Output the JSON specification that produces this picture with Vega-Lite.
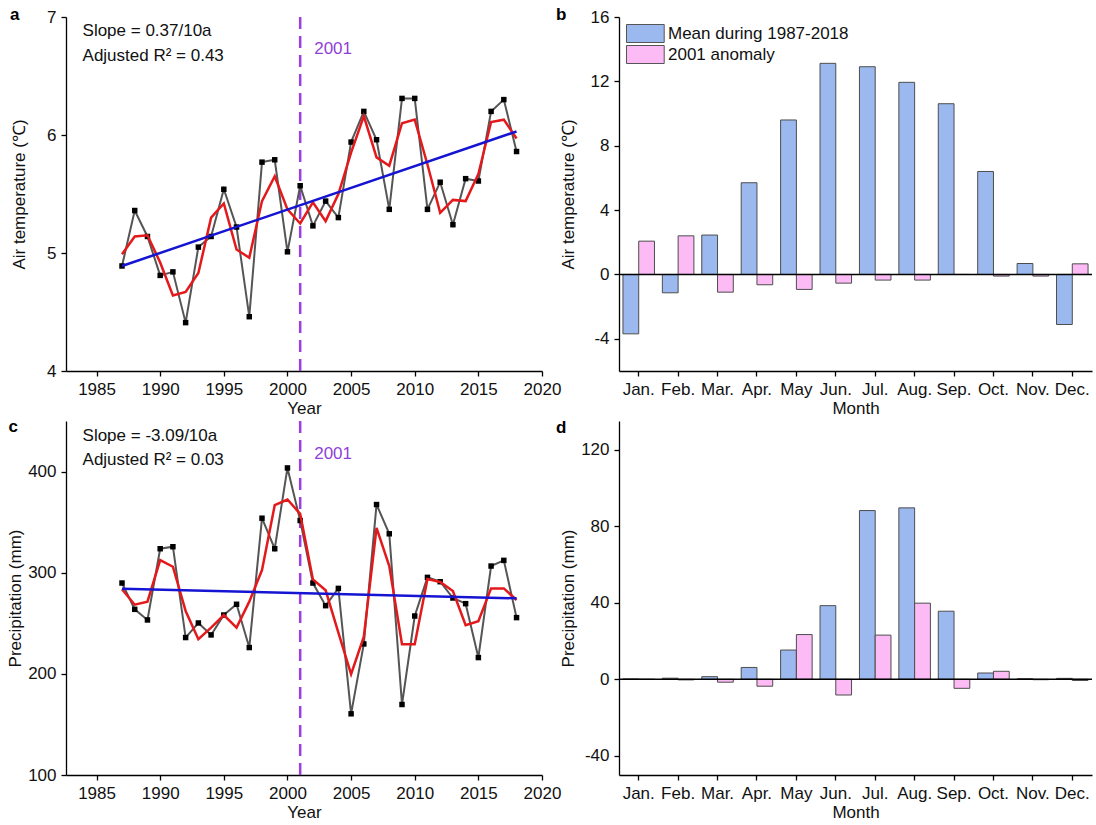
{
  "$schema": "https://vega.github.io/schema/vega-lite/v6.json",
  "padding": {"left": 6, "top": 6, "right": 0, "bottom": 0},
  "background": "white",
  "config": {
    "font": "Liberation Sans",
    "view": {"stroke": null},
    "axis": {"grid": false, "domainColor": "#000", "tickColor": "#000", "labelColor": "#111", "titleColor": "#111", "labelFontSize": 17, "titleFontSize": 17, "titleFontWeight": "normal", "labelFont": "Liberation Sans", "titleFont": "Liberation Sans", "domainWidth": 1.3, "tickWidth": 1.3, "tickSize": 5},
    "axisY": {"labelPadding": 5},
    "axisX": {"titlePadding": 3, "labelPadding": 5, "labelFlush": false},
    "title": {"anchor": "start", "frame": "group", "fontSize": 17, "fontWeight": "bold", "color": "#000", "offset": -16, "font": "Liberation Sans"}
  },
  "datasets": {
    "temp": [
      {"year": 1987, "obs": 4.89, "smooth": 4.99},
      {"year": 1988, "obs": 5.36, "smooth": 5.14},
      {"year": 1989, "obs": 5.14, "smooth": 5.15},
      {"year": 1990, "obs": 4.81, "smooth": 4.92},
      {"year": 1991, "obs": 4.84, "smooth": 4.64},
      {"year": 1992, "obs": 4.41, "smooth": 4.67},
      {"year": 1993, "obs": 5.05, "smooth": 4.83},
      {"year": 1994, "obs": 5.14, "smooth": 5.30},
      {"year": 1995, "obs": 5.54, "smooth": 5.42},
      {"year": 1996, "obs": 5.22, "smooth": 5.03},
      {"year": 1997, "obs": 4.46, "smooth": 4.96},
      {"year": 1998, "obs": 5.77, "smooth": 5.44},
      {"year": 1999, "obs": 5.79, "smooth": 5.65},
      {"year": 2000, "obs": 5.01, "smooth": 5.37},
      {"year": 2001, "obs": 5.57, "smooth": 5.25},
      {"year": 2002, "obs": 5.23, "smooth": 5.43},
      {"year": 2003, "obs": 5.44, "smooth": 5.27},
      {"year": 2004, "obs": 5.30, "smooth": 5.50},
      {"year": 2005, "obs": 5.94, "smooth": 5.85},
      {"year": 2006, "obs": 6.20, "smooth": 6.16},
      {"year": 2007, "obs": 5.96, "smooth": 5.81},
      {"year": 2008, "obs": 5.37, "smooth": 5.74},
      {"year": 2009, "obs": 6.31, "smooth": 6.10},
      {"year": 2010, "obs": 6.31, "smooth": 6.13},
      {"year": 2011, "obs": 5.37, "smooth": 5.75},
      {"year": 2012, "obs": 5.60, "smooth": 5.34},
      {"year": 2013, "obs": 5.24, "smooth": 5.45},
      {"year": 2014, "obs": 5.63, "smooth": 5.44},
      {"year": 2015, "obs": 5.61, "smooth": 5.67},
      {"year": 2016, "obs": 6.20, "smooth": 6.11},
      {"year": 2017, "obs": 6.30, "smooth": 6.13},
      {"year": 2018, "obs": 5.86, "smooth": 5.97}
    ],
    "tfit": [{"year": 1987, "fit": 4.89}, {"year": 2018, "fit": 6.03}],
    "prec": [
      {"year": 1987, "obs": 289.8, "smooth": 283.6},
      {"year": 1988, "obs": 263.8, "smooth": 268.4},
      {"year": 1989, "obs": 253.3, "smooth": 271.4},
      {"year": 1990, "obs": 323.7, "smooth": 312.5},
      {"year": 1991, "obs": 325.7, "smooth": 305.9},
      {"year": 1992, "obs": 235.9, "smooth": 262.2},
      {"year": 1993, "obs": 250.3, "smooth": 234.2},
      {"year": 1994, "obs": 238.5, "smooth": 245.7},
      {"year": 1995, "obs": 258.2, "smooth": 258.2},
      {"year": 1996, "obs": 268.8, "smooth": 245.7},
      {"year": 1997, "obs": 226.0, "smooth": 271.4},
      {"year": 1998, "obs": 353.9, "smooth": 302.6},
      {"year": 1999, "obs": 323.7, "smooth": 366.8},
      {"year": 2000, "obs": 403.6, "smooth": 372.4},
      {"year": 2001, "obs": 351.6, "smooth": 358.2},
      {"year": 2002, "obs": 289.8, "smooth": 293.4},
      {"year": 2003, "obs": 267.4, "smooth": 282.6},
      {"year": 2004, "obs": 284.5, "smooth": 240.8},
      {"year": 2005, "obs": 160.5, "smooth": 199.7},
      {"year": 2006, "obs": 229.6, "smooth": 236.8},
      {"year": 2007, "obs": 367.4, "smooth": 344.4},
      {"year": 2008, "obs": 338.5, "smooth": 306.6},
      {"year": 2009, "obs": 169.7, "smooth": 229.3},
      {"year": 2010, "obs": 257.2, "smooth": 229.3},
      {"year": 2011, "obs": 295.4, "smooth": 293.8},
      {"year": 2012, "obs": 291.1, "smooth": 290.8},
      {"year": 2013, "obs": 275.0, "smooth": 281.9},
      {"year": 2014, "obs": 269.4, "smooth": 248.0},
      {"year": 2015, "obs": 216.1, "smooth": 252.0},
      {"year": 2016, "obs": 306.6, "smooth": 284.5},
      {"year": 2017, "obs": 312.2, "smooth": 284.5},
      {"year": 2018, "obs": 255.6, "smooth": 273.0}
    ],
    "pfit": [{"year": 1987, "fit": 284.2}, {"year": 2018, "fit": 274.7}],
    "tmonth": [
      {"month": "Jan.", "series": "Mean during 1987-2018", "value": -3.69},
      {"month": "Feb.", "series": "Mean during 1987-2018", "value": -1.14},
      {"month": "Mar.", "series": "Mean during 1987-2018", "value": 2.45},
      {"month": "Apr.", "series": "Mean during 1987-2018", "value": 5.70},
      {"month": "May", "series": "Mean during 1987-2018", "value": 9.60},
      {"month": "Jun.", "series": "Mean during 1987-2018", "value": 13.12},
      {"month": "Jul.", "series": "Mean during 1987-2018", "value": 12.91},
      {"month": "Aug.", "series": "Mean during 1987-2018", "value": 11.94},
      {"month": "Sep.", "series": "Mean during 1987-2018", "value": 10.61},
      {"month": "Oct.", "series": "Mean during 1987-2018", "value": 6.40},
      {"month": "Nov.", "series": "Mean during 1987-2018", "value": 0.68},
      {"month": "Dec.", "series": "Mean during 1987-2018", "value": -3.11},
      {"month": "Jan.", "series": "2001 anomaly", "value": 2.07},
      {"month": "Feb.", "series": "2001 anomaly", "value": 2.40},
      {"month": "Mar.", "series": "2001 anomaly", "value": -1.10},
      {"month": "Apr.", "series": "2001 anomaly", "value": -0.64},
      {"month": "May", "series": "2001 anomaly", "value": -0.93},
      {"month": "Jun.", "series": "2001 anomaly", "value": -0.54},
      {"month": "Jul.", "series": "2001 anomaly", "value": -0.35},
      {"month": "Aug.", "series": "2001 anomaly", "value": -0.35},
      {"month": "Sep.", "series": "2001 anomaly", "value": 0.0},
      {"month": "Oct.", "series": "2001 anomaly", "value": -0.10},
      {"month": "Nov.", "series": "2001 anomaly", "value": -0.10},
      {"month": "Dec.", "series": "2001 anomaly", "value": 0.66}
    ],
    "pmonth": [
      {"month": "Jan.", "series": "Mean during 1987-2018", "value": 0.2},
      {"month": "Feb.", "series": "Mean during 1987-2018", "value": 0.6},
      {"month": "Mar.", "series": "Mean during 1987-2018", "value": 1.4},
      {"month": "Apr.", "series": "Mean during 1987-2018", "value": 6.2},
      {"month": "May", "series": "Mean during 1987-2018", "value": 15.3},
      {"month": "Jun.", "series": "Mean during 1987-2018", "value": 38.5},
      {"month": "Jul.", "series": "Mean during 1987-2018", "value": 88.2},
      {"month": "Aug.", "series": "Mean during 1987-2018", "value": 89.6},
      {"month": "Sep.", "series": "Mean during 1987-2018", "value": 35.6},
      {"month": "Oct.", "series": "Mean during 1987-2018", "value": 3.3},
      {"month": "Nov.", "series": "Mean during 1987-2018", "value": 0.3},
      {"month": "Dec.", "series": "Mean during 1987-2018", "value": 0.5},
      {"month": "Jan.", "series": "2001 anomaly", "value": 0.0},
      {"month": "Feb.", "series": "2001 anomaly", "value": -0.3},
      {"month": "Mar.", "series": "2001 anomaly", "value": -1.5},
      {"month": "Apr.", "series": "2001 anomaly", "value": -3.6},
      {"month": "May", "series": "2001 anomaly", "value": 23.4},
      {"month": "Jun.", "series": "2001 anomaly", "value": -8.2},
      {"month": "Jul.", "series": "2001 anomaly", "value": 23.1},
      {"month": "Aug.", "series": "2001 anomaly", "value": 39.8},
      {"month": "Sep.", "series": "2001 anomaly", "value": -4.7},
      {"month": "Oct.", "series": "2001 anomaly", "value": 4.2},
      {"month": "Nov.", "series": "2001 anomaly", "value": -0.2},
      {"month": "Dec.", "series": "2001 anomaly", "value": -0.6}
    ]
  },
  "bounds": "flush",
  "columns": 2,
  "spacing": {"row": 50, "column": 77},
  "resolve": {"scale": {"x": "independent", "y": "independent", "color": "independent"}, "legend": {"color": "independent"}},
  "concat": [
    {
      "width": 476, "height": 354,
      "title": {"text": "a", "dx": -56},
      "data": {"name": "temp"},
      "layer": [
        {"data": {"values": [{"year": 2001}]}, "mark": {"type": "rule", "color": "#9a3fe4", "strokeWidth": 2.5, "strokeDash": [12, 7]},
         "encoding": {"x": {"field": "year", "type": "quantitative", "scale": {"domain": [1982.6, 2020], "nice": false, "zero": false}, "axis": {"values": [1985, 1990, 1995, 2000, 2005, 2010, 2015, 2020], "format": "d", "title": "Year"}}}},
        {"mark": {"type": "line", "color": "#555555", "strokeWidth": 2},
         "encoding": {"x": {"field": "year", "type": "quantitative", "title": "Year"}, "y": {"field": "obs", "type": "quantitative", "scale": {"domain": [4, 7], "nice": false, "zero": false}, "axis": {"values": [4, 5, 6, 7], "labelExpr": "'' + datum.value", "title": "Air temperature (℃)", "minExtent": 32, "maxExtent": 32, "titlePadding": 6}}}},
        {"mark": {"type": "point", "shape": "square", "filled": true, "color": "#000", "size": 30, "opacity": 1},
         "encoding": {"x": {"field": "year", "type": "quantitative", "title": "Year"}, "y": {"field": "obs", "type": "quantitative", "title": "Air temperature (℃)"}}},
        {"mark": {"type": "line", "color": "#e3191c", "strokeWidth": 2.5},
         "encoding": {"x": {"field": "year", "type": "quantitative", "title": "Year"}, "y": {"field": "smooth", "type": "quantitative", "title": "Air temperature (℃)"}}},
        {"data": {"name": "tfit"}, "mark": {"type": "line", "color": "#1414d2", "strokeWidth": 2.5},
         "encoding": {"x": {"field": "year", "type": "quantitative", "title": "Year"}, "y": {"field": "fit", "type": "quantitative", "title": "Air temperature (℃)"}}},
        {"data": {"values": [{"t": "Slope = 0.37/10a"}]}, "mark": {"type": "text", "align": "left", "baseline": "middle", "fontSize": 17, "color": "#111"}, "encoding": {"x": {"datum": 1983.9, "type": "quantitative"}, "y": {"datum": 6.88, "type": "quantitative"}, "text": {"field": "t", "type": "nominal"}}},
        {"data": {"values": [{"t": "Adjusted R² = 0.43"}]}, "mark": {"type": "text", "align": "left", "baseline": "middle", "fontSize": 17, "color": "#111"}, "encoding": {"x": {"datum": 1983.9, "type": "quantitative"}, "y": {"datum": 6.67, "type": "quantitative"}, "text": {"field": "t", "type": "nominal"}}},
        {"data": {"values": [{"t": "2001"}]}, "mark": {"type": "text", "align": "left", "baseline": "middle", "fontSize": 17, "color": "#8f3fd9"}, "encoding": {"x": {"datum": 2002.1, "type": "quantitative"}, "y": {"datum": 6.73, "type": "quantitative"}, "text": {"field": "t", "type": "nominal"}}}
      ]
    },
    {
      "width": 473, "height": 354,
      "title": {"text": "b", "dx": -63},
      "data": {"name": "tmonth"},
      "layer": [
        {"mark": {"type": "bar", "stroke": "#4d4d4d", "strokeWidth": 1},
         "encoding": {
           "x": {"field": "month", "type": "nominal", "sort": ["Jan.", "Feb.", "Mar.", "Apr.", "May", "Jun.", "Jul.", "Aug.", "Sep.", "Oct.", "Nov.", "Dec."], "scale": {"paddingInner": 0.2, "paddingOuter": 0.1}, "axis": {"title": "Month", "labelAngle": 0}},
           "xOffset": {"field": "series", "sort": ["Mean during 1987-2018", "2001 anomaly"]},
           "y": {"field": "value", "type": "quantitative", "scale": {"domain": [-6, 16], "nice": false}, "axis": {"values": [-4, 0, 4, 8, 12, 16], "labelExpr": "'' + datum.value", "title": "Air temperature (℃)", "minExtent": 36, "maxExtent": 36, "titlePadding": 5.5}},
           "color": {"field": "series", "type": "nominal", "scale": {"domain": ["Mean during 1987-2018", "2001 anomaly"], "range": ["#9cb9ef", "#fcbbf5"]},
             "legend": {"title": null, "orient": "top-left", "offset": 7, "padding": 0, "symbolType": "M-1,-1L3.19,-1L3.19,1L-1,1Z", "symbolSize": 324, "symbolStrokeColor": "#555", "symbolStrokeWidth": 1, "symbolOpacity": 1, "labelFontSize": 17, "labelOffset": 23, "labelLimit": 400, "rowPadding": -3, "labelColor": "#111", "labelFont": "Liberation Sans"}}
         }},
        {"data": {"values": [{}]}, "mark": {"type": "rule", "color": "#000", "strokeWidth": 1.5}, "encoding": {"y": {"datum": 0}}}
      ]
    },
    {
      "width": 476, "height": 354,
      "title": {"text": "c", "dx": -57.5},
      "data": {"name": "prec"},
      "layer": [
        {"data": {"values": [{"year": 2001}]}, "mark": {"type": "rule", "color": "#9a3fe4", "strokeWidth": 2.5, "strokeDash": [12, 7]},
         "encoding": {"x": {"field": "year", "type": "quantitative", "scale": {"domain": [1982.6, 2020], "nice": false, "zero": false}, "axis": {"values": [1985, 1990, 1995, 2000, 2005, 2010, 2015, 2020], "format": "d", "title": "Year"}}}},
        {"mark": {"type": "line", "color": "#555555", "strokeWidth": 2},
         "encoding": {"x": {"field": "year", "type": "quantitative", "title": "Year"}, "y": {"field": "obs", "type": "quantitative", "scale": {"domain": [100, 450], "nice": false, "zero": false}, "axis": {"values": [100, 200, 300, 400], "title": "Precipitation (mm)", "minExtent": 40, "maxExtent": 40, "titlePadding": 2}}}},
        {"mark": {"type": "point", "shape": "square", "filled": true, "color": "#000", "size": 30, "opacity": 1},
         "encoding": {"x": {"field": "year", "type": "quantitative", "title": "Year"}, "y": {"field": "obs", "type": "quantitative", "title": "Precipitation (mm)"}}},
        {"mark": {"type": "line", "color": "#e3191c", "strokeWidth": 2.5},
         "encoding": {"x": {"field": "year", "type": "quantitative", "title": "Year"}, "y": {"field": "smooth", "type": "quantitative", "title": "Precipitation (mm)"}}},
        {"data": {"name": "pfit"}, "mark": {"type": "line", "color": "#1414d2", "strokeWidth": 2.5},
         "encoding": {"x": {"field": "year", "type": "quantitative", "title": "Year"}, "y": {"field": "fit", "type": "quantitative", "title": "Precipitation (mm)"}}},
        {"data": {"values": [{"t": "Slope = -3.09/10a"}]}, "mark": {"type": "text", "align": "left", "baseline": "middle", "fontSize": 17, "color": "#111"}, "encoding": {"x": {"datum": 1983.9, "type": "quantitative"}, "y": {"datum": 435, "type": "quantitative"}, "text": {"field": "t", "type": "nominal"}}},
        {"data": {"values": [{"t": "Adjusted R² = 0.03"}]}, "mark": {"type": "text", "align": "left", "baseline": "middle", "fontSize": 17, "color": "#111"}, "encoding": {"x": {"datum": 1983.9, "type": "quantitative"}, "y": {"datum": 411, "type": "quantitative"}, "text": {"field": "t", "type": "nominal"}}},
        {"data": {"values": [{"t": "2001"}]}, "mark": {"type": "text", "align": "left", "baseline": "middle", "fontSize": 17, "color": "#8f3fd9"}, "encoding": {"x": {"datum": 2002.1, "type": "quantitative"}, "y": {"datum": 417, "type": "quantitative"}, "text": {"field": "t", "type": "nominal"}}}
      ]
    },
    {
      "width": 473, "height": 354,
      "title": {"text": "d", "dx": -63},
      "data": {"name": "pmonth"},
      "layer": [
        {"mark": {"type": "bar", "stroke": "#4d4d4d", "strokeWidth": 1},
         "encoding": {
           "x": {"field": "month", "type": "nominal", "sort": ["Jan.", "Feb.", "Mar.", "Apr.", "May", "Jun.", "Jul.", "Aug.", "Sep.", "Oct.", "Nov.", "Dec."], "scale": {"paddingInner": 0.2, "paddingOuter": 0.1}, "axis": {"title": "Month", "labelAngle": 0}},
           "xOffset": {"field": "series", "sort": ["Mean during 1987-2018", "2001 anomaly"]},
           "y": {"field": "value", "type": "quantitative", "scale": {"domain": [-50, 135], "nice": false}, "axis": {"values": [-40, 0, 40, 80, 120], "labelExpr": "'' + datum.value", "title": "Precipitation (mm)", "minExtent": 39, "maxExtent": 39, "titlePadding": 2.5}},
           "color": {"field": "series", "type": "nominal", "scale": {"domain": ["Mean during 1987-2018", "2001 anomaly"], "range": ["#9cb9ef", "#fcbbf5"]}, "legend": null}
         }},
        {"data": {"values": [{}]}, "mark": {"type": "rule", "color": "#000", "strokeWidth": 1.5}, "encoding": {"y": {"datum": 0}}}
      ]
    }
  ]
}
